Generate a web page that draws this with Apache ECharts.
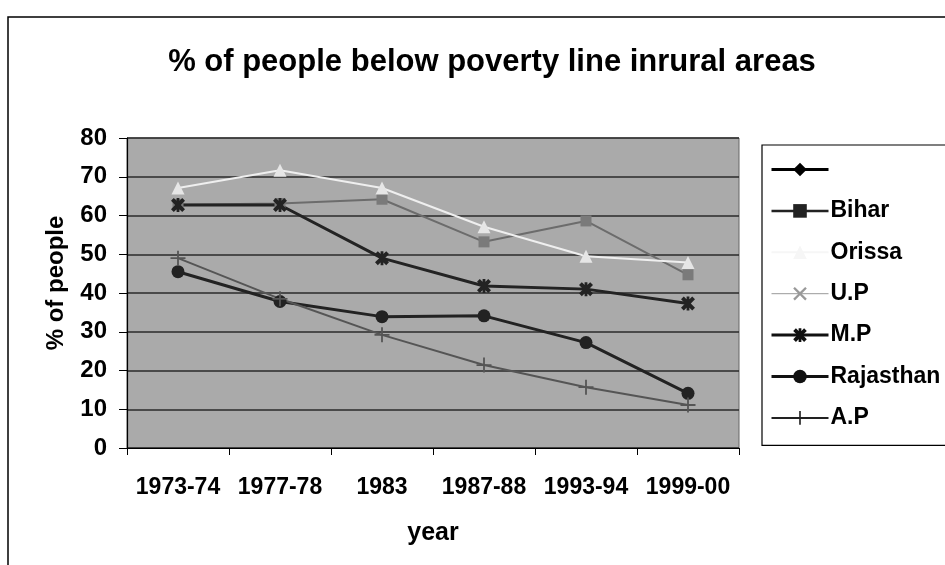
<!DOCTYPE html>
<html><head><meta charset="utf-8">
<script src="https://cdn.jsdelivr.net/npm/echarts@6/dist/echarts.min.js"></script>
<style>html,body{margin:0;padding:0;background:#fff}#c{width:945px;height:565px}</style>
</head><body><div id="c"></div>
<script>
var categories = ['1973-74','1977-78','1983','1987-88','1993-94','1999-00'];
var blankSeries = [];
var bihar = [62.8, 63.1, 64.2, 53.2, 58.6, 44.7];
var orissa = [67.1, 71.7, 67.1, 57.1, 49.5, 47.9];
var up = [];
var mp = [62.7, 62.7, 49.0, 41.8, 41.0, 37.3];
var rajasthan = [45.5, 37.8, 33.9, 34.1, 27.2, 14.1];
var ap = [49.0, 38.5, 29.2, 21.4, 15.7, 11.1];
var yTicks = {min: 0, max: 80, interval: 10};

var FONT = "'Liberation Sans', Arial, sans-serif";
var X_PATH = 'path://M0,1.2L1.2,0L5,3.8L8.8,0L10,1.2L6.2,5L10,8.8L8.8,10L5,6.2L1.2,10L0,8.8L3.8,5Z';
var STAR_PATH = 'path://M0,2L2,0L5,3L8,0L10,2L7,5L10,8L8,10L5,7L2,10L0,8L3,5Z M4,0H6V10H4Z';
var PLUS_PATH = 'path://M4.4,0H5.6V4.4H10V5.6H5.6V10H4.4V5.6H0V4.4H4.4Z';

function mk(name, data, color, symbol, size, width, symColor) {
  return {
    name: name, type: 'line', data: data, symbol: symbol, symbolSize: size,
    lineStyle: {color: color, width: width},
    itemStyle: {color: symColor || color, borderColor: symColor || color, borderWidth: 0},
    emphasis: {disabled: true}, animation: false
  };
}
function lg(name, color, width) {
  return {name: name, lineStyle: {color: color, width: width}, itemStyle: {color: color, borderColor: color}};
}

var chart = echarts.init(document.getElementById('c'));
chart.setOption({
  animation: false,
  title: {
    text: '% of people below poverty line inrural areas',
    left: 487, textAlign: 'center', top: 42,
    textStyle: {fontFamily: FONT, fontWeight: 'bold', fontSize: 31, color: '#000'}
  },
  graphic: [{
    type: 'rect', shape: {x: 8, y: 17, width: 960, height: 600},
    style: {fill: 'none', stroke: '#000', lineWidth: 1.5}, z: -10
  }],
  grid: {
    left: 127, right: 206, top: 138, bottom: 117, show: true,
    backgroundColor: '#aaaaaa', borderColor: '#666', borderWidth: 1
  },
  legend: {
    orient: 'vertical', left: 762, top: 145,
    padding: [13, 40, 16, 8], itemWidth: 57, itemHeight: 17, itemGap: 18.4,
    borderColor: '#000', borderWidth: 1.2, backgroundColor: '#fff',
    textStyle: {fontFamily: FONT, fontWeight: 'bold', fontSize: 23, color: '#000', padding: [0,0,0,-3]},
    data: [lg(' ', '#000', 3), lg('Bihar', '#222', 2.5), lg('Orissa', '#f6f6f6', 2),
           lg('U.P', '#999', 1), lg('M.P', '#111', 3), lg('Rajasthan', '#111', 3), lg('A.P', '#222', 2)]
  },
  xAxis: {
    type: 'category', data: categories, boundaryGap: true,
    name: 'year', nameLocation: 'middle', nameGap: 73,
    nameTextStyle: {fontFamily: FONT, fontWeight: 'bold', fontSize: 25, color: '#000'},
    axisLine: {lineStyle: {color: '#000', width: 1.2}},
    axisTick: {show: true, interval: 0, length: 7, lineStyle: {color: '#000'}, alignWithLabel: false},
    axisLabel: {interval: 0, hideOverlap: false, margin: 28, fontFamily: FONT, fontWeight: 'bold', fontSize: 23, color: '#000'},
    splitLine: {show: false}
  },
  yAxis: {
    type: 'value', min: yTicks.min, max: yTicks.max, interval: yTicks.interval,
    name: '% of people', nameLocation: 'middle', nameGap: 59, nameRotate: 90,
    nameTextStyle: {fontFamily: FONT, fontWeight: 'bold', fontSize: 24, color: '#000', padding: [0,0,0,20]},
    axisLine: {show: true, lineStyle: {color: '#000', width: 1.2}},
    axisTick: {show: true, length: 8, lineStyle: {color: '#000'}},
    axisLabel: {margin: 20, fontFamily: FONT, fontWeight: 'bold', fontSize: 24, color: '#000'},
    splitLine: {show: true, lineStyle: {color: '#2a2a2a', width: 1.5}}
  },
  series: [
    mk(' ', blankSeries, '#000', 'diamond', 13, 2.5),
    mk('Bihar', bihar, '#6c6c6c', 'rect', 11, 2, '#7a7a7a'),
    mk('Orissa', orissa, '#efefef', 'triangle', 13, 2, '#e6e6e6'),
    mk('U.P', up, '#9a9a9a', X_PATH, 11, 1),
    mk('M.P', mp, '#232323', STAR_PATH, 14, 3),
    mk('Rajasthan', rajasthan, '#222222', 'circle', 13, 3),
    mk('A.P', ap, '#555555', PLUS_PATH, 15, 2)
  ]
});
</script></body></html>
